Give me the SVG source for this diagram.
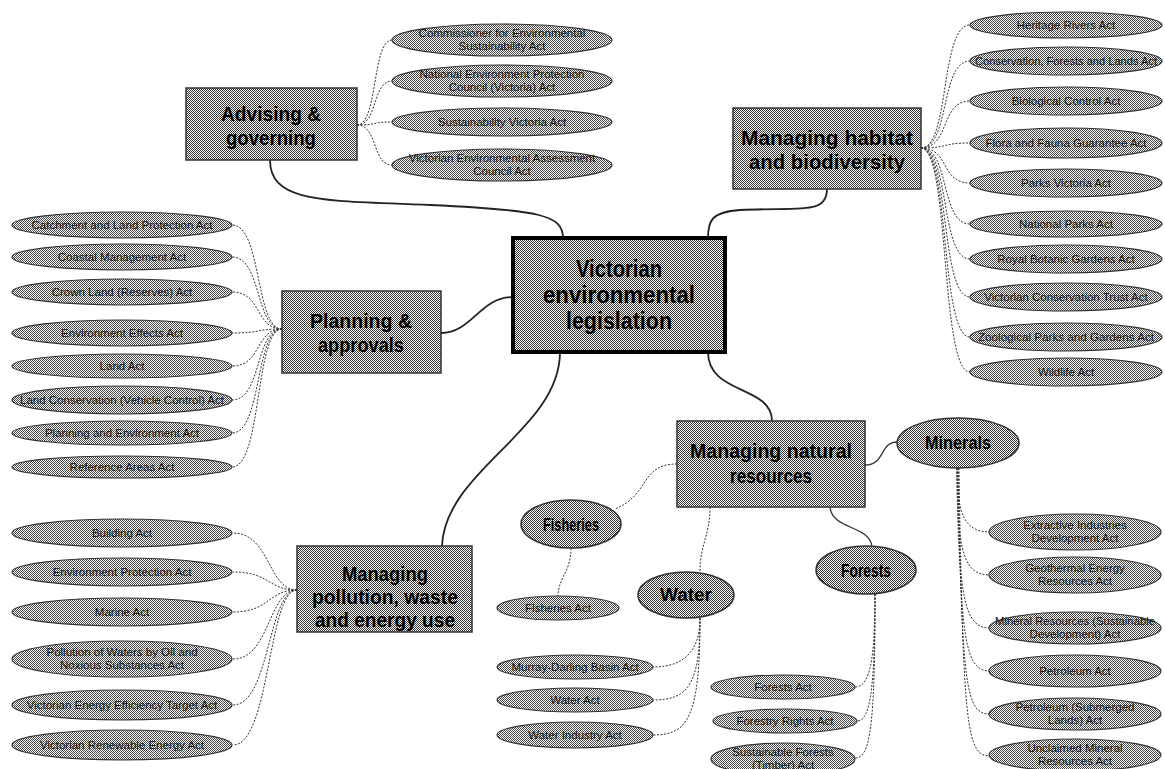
<svg xmlns="http://www.w3.org/2000/svg" width="1165" height="769" viewBox="0 0 1165 769">
  <defs>
    <!-- halftone fills -->
    <pattern id="dots" width="2" height="2" patternUnits="userSpaceOnUse">
      <rect width="2" height="2" fill="#fff"/>
      <rect width="1" height="1" fill="#333"/>
      <rect x="1" y="1" width="1" height="1" fill="#333"/>
    </pattern>
    <pattern id="dots2" width="2" height="2" patternUnits="userSpaceOnUse">
      <rect width="2" height="2" fill="#fff"/>
      <rect width="1" height="1" fill="#444"/>
      <rect x="1" y="1" width="1" height="1" fill="#444"/>
    </pattern>
  </defs>
  <style>
    .box{fill:url(#dots);stroke:#333;stroke-width:1.5}
    .core{fill:url(#dots);stroke:#000;stroke-width:4}
    .sub{fill:url(#dots);stroke:#333;stroke-width:1.5}
    .leaf{fill:url(#dots2);stroke:#333;stroke-width:1.2}
    .lbl{font-family:"Liberation Sans",Arial,sans-serif;font-weight:bold;fill:#000;text-anchor:middle}
    .sm{font-family:"Liberation Sans",Arial,sans-serif;font-size:11.5px;fill:#111;text-anchor:middle}
    .main{fill:none;stroke:#222;stroke-width:1.8}
    .thin{fill:none;stroke:#333;stroke-width:1.3}
    .dot{fill:none;stroke:#333;stroke-width:1;stroke-dasharray:2 1.5}
  </style>
  <rect width="1165" height="769" fill="#fff"/>

  <!-- connectors -->
  <g id="connectors">
    <!-- centre to categories -->
    <path class="main" d="M270,160 C270,205 330,200 430,205 C540,210 563,215 563,238"/>
    <path class="main" d="M827,189 C827,215 800,207 740,210 C712,212 708,220 708,238"/>
    <path class="main" d="M441,333 C472,333 480,297 513,297"/>
    <path class="main" d="M560,352 C560,430 445,470 442,546"/>
    <path class="main" d="M708,352 C708,395 772,385 772,421"/>
    <!-- natural resources to sub-topics -->
    <path class="thin" d="M865,465 C885,465 880,442 897,442"/>
    <path class="dot" d="M677,464 C640,464 650,495 615,509"/>
    <path class="dot" d="M710,507 C710,535 700,545 700,571"/>
    <path class="thin" d="M830,507 C832,530 870,525 872,547"/>
    <path class="dot" d="M571,548 C571,572 558,578 558,596"/>
    <!-- advising acts -->
    <path class="dot" d="M357,125 C378,125 372,40 392,40"/>
    <path class="dot" d="M357,125 C378,125 372,81 392,81"/>
    <path class="dot" d="M357,125 C378,125 372,122 392,122"/>
    <path class="dot" d="M357,125 C378,125 372,165 392,165"/>
    <!-- habitat acts -->
    <path class="dot" d="M921,148 C950,148 940,25 970,25"/>
    <path class="dot" d="M921,148 C950,148 940,61 970,61"/>
    <path class="dot" d="M921,148 C950,148 940,101 970,101"/>
    <path class="dot" d="M921,148 C950,148 940,143 970,143"/>
    <path class="dot" d="M921,148 C950,148 940,183 970,183"/>
    <path class="dot" d="M921,148 C950,148 940,224 970,224"/>
    <path class="dot" d="M921,148 C950,148 940,259 970,259"/>
    <path class="dot" d="M921,148 C950,148 940,297 970,297"/>
    <path class="dot" d="M921,148 C950,148 940,337 970,337"/>
    <path class="dot" d="M921,148 C950,148 940,372 970,372"/>
    <!-- planning acts -->
    <path class="dot" d="M282,329 C255,329 262,225 232,225"/>
    <path class="dot" d="M282,329 C255,329 262,257 232,257"/>
    <path class="dot" d="M282,329 C255,329 262,292 232,292"/>
    <path class="dot" d="M282,329 C255,329 262,333 232,333"/>
    <path class="dot" d="M282,329 C255,329 262,366 232,366"/>
    <path class="dot" d="M282,329 C255,329 262,400 232,400"/>
    <path class="dot" d="M282,329 C255,329 262,433 232,433"/>
    <path class="dot" d="M282,329 C255,329 262,467 232,467"/>
    <!-- pollution acts -->
    <path class="dot" d="M297,590 C268,590 270,533 233,533"/>
    <path class="dot" d="M297,590 C268,590 270,572 233,572"/>
    <path class="dot" d="M297,590 C268,590 270,612 233,612"/>
    <path class="dot" d="M297,590 C268,590 270,659 233,659"/>
    <path class="dot" d="M297,590 C268,590 270,705 233,705"/>
    <path class="dot" d="M297,590 C268,590 270,745 233,745"/>
    <!-- water acts -->
    <path class="dot" d="M700,618 C700,650 685,667 653,667"/>
    <path class="dot" d="M700,618 C700,685 688,700 653,700"/>
    <path class="dot" d="M700,618 C700,718 688,735 653,735"/>
    <!-- forests acts -->
    <path class="dot" d="M875,594 C875,660 870,687 855,687"/>
    <path class="dot" d="M875,594 C875,690 870,721 857,721"/>
    <path class="dot" d="M875,594 C875,730 870,758 855,758"/>
    <!-- minerals acts -->
    <path class="dot" d="M957,468 C957,515 965,532 990,532"/>
    <path class="dot" d="M957,468 C957,555 965,575 990,575"/>
    <path class="dot" d="M957,468 C958,600 965,628 990,628"/>
    <path class="dot" d="M958,468 C960,640 965,671 990,671"/>
    <path class="dot" d="M958,468 C962,690 966,714 990,714"/>
    <path class="dot" d="M959,468 C963,730 967,756 990,756"/>
  </g>

  <!-- centre -->
  <g id="core">
    <rect class="core" x="513" y="238" width="212" height="114"/>
    <text class="lbl" font-size="23" x="619" y="277" textLength="86" lengthAdjust="spacingAndGlyphs">Victorian</text>
    <text class="lbl" font-size="23" x="619" y="303" textLength="152" lengthAdjust="spacingAndGlyphs">environmental</text>
    <text class="lbl" font-size="23" x="619" y="329" textLength="106" lengthAdjust="spacingAndGlyphs">legislation</text>
  </g>

  <!-- categories -->
  <g id="advising">
    <rect class="box" x="186" y="88" width="171" height="72"/>
    <text class="lbl" font-size="21" x="271" y="121" textLength="100" lengthAdjust="spacingAndGlyphs">Advising &amp;</text>
    <text class="lbl" font-size="21" x="271" y="145" textLength="90" lengthAdjust="spacingAndGlyphs">governing</text>
  </g>
  <g id="planning">
    <rect class="box" x="282" y="291" width="159" height="82"/>
    <text class="lbl" font-size="21" x="361" y="328" textLength="102" lengthAdjust="spacingAndGlyphs">Planning &amp;</text>
    <text class="lbl" font-size="21" x="361" y="352" textLength="86" lengthAdjust="spacingAndGlyphs">approvals</text>
  </g>
  <g id="habitat">
    <rect class="box" x="733" y="108" width="188" height="81"/>
    <text class="lbl" font-size="21" x="827" y="145" textLength="172" lengthAdjust="spacingAndGlyphs">Managing habitat</text>
    <text class="lbl" font-size="21" x="827" y="169" textLength="156" lengthAdjust="spacingAndGlyphs">and biodiversity</text>
  </g>
  <g id="resources">
    <rect class="box" x="677" y="421" width="188" height="86"/>
    <text class="lbl" font-size="21" x="771" y="458" textLength="162" lengthAdjust="spacingAndGlyphs">Managing natural</text>
    <text class="lbl" font-size="21" x="771" y="483" textLength="82" lengthAdjust="spacingAndGlyphs">resources</text>
  </g>
  <g id="pollution">
    <rect class="box" x="297" y="546" width="175" height="86"/>
    <text class="lbl" font-size="21" x="385" y="581" textLength="86" lengthAdjust="spacingAndGlyphs">Managing</text>
    <text class="lbl" font-size="21" x="385" y="604" textLength="146" lengthAdjust="spacingAndGlyphs">pollution, waste</text>
    <text class="lbl" font-size="21" x="385" y="627" textLength="140" lengthAdjust="spacingAndGlyphs">and energy use</text>
  </g>

  <!-- resource sub-topics -->
  <g id="minerals">
    <ellipse class="sub" cx="958" cy="443" rx="61" ry="25"/>
    <text class="lbl" font-size="18" x="958" y="449" textLength="66" lengthAdjust="spacingAndGlyphs">Minerals</text>
  </g>
  <g id="fisheries">
    <ellipse class="sub" cx="571" cy="524" rx="50" ry="24"/>
    <text class="lbl" font-size="18" x="571" y="531" textLength="56" lengthAdjust="spacingAndGlyphs">Fisheries</text>
  </g>
  <g id="water">
    <ellipse class="sub" cx="686" cy="595" rx="48" ry="23"/>
    <text class="lbl" font-size="18" x="686" y="601" textLength="52" lengthAdjust="spacingAndGlyphs">Water</text>
  </g>
  <g id="forests">
    <ellipse class="sub" cx="866" cy="570" rx="50" ry="24"/>
    <text class="lbl" font-size="18" x="866" y="577" textLength="50" lengthAdjust="spacingAndGlyphs">Forests</text>
  </g>

  <!-- advising acts -->
  <g id="act-ces">
    <ellipse class="leaf" cx="502" cy="40" rx="110" ry="16"/>
    <text class="sm" x="502" y="37">Commissioner for Environmental</text>
    <text class="sm" x="502" y="50">Sustainability Act</text>
  </g>
  <g id="act-nepc">
    <ellipse class="leaf" cx="502" cy="81" rx="110" ry="16"/>
    <text class="sm" x="502" y="78">National Environment Protection</text>
    <text class="sm" x="502" y="91">Council (Victoria) Act</text>
  </g>
  <g id="act-sv">
    <ellipse class="leaf" cx="502" cy="122" rx="110" ry="14"/>
    <text class="sm" x="502" y="126">Sustainability Victoria Act</text>
  </g>
  <g id="act-veac">
    <ellipse class="leaf" cx="502" cy="165" rx="110" ry="16"/>
    <text class="sm" x="502" y="162">Victorian Environmental Assessment</text>
    <text class="sm" x="502" y="175">Council Act</text>
  </g>

  <!-- habitat acts -->
  <g id="act-hr">
    <ellipse class="leaf" cx="1066" cy="25" rx="96" ry="13"/>
    <text class="sm" x="1066" y="29">Heritage Rivers Act</text>
  </g>
  <g id="act-cfl">
    <ellipse class="leaf" cx="1066" cy="61" rx="96" ry="14"/>
    <text class="sm" x="1066" y="65" textLength="182" lengthAdjust="spacingAndGlyphs">Conservation, Forests and Lands Act</text>
  </g>
  <g id="act-bc">
    <ellipse class="leaf" cx="1066" cy="101" rx="96" ry="14"/>
    <text class="sm" x="1066" y="105">Biological Control Act</text>
  </g>
  <g id="act-ffg">
    <ellipse class="leaf" cx="1066" cy="143" rx="96" ry="15"/>
    <text class="sm" x="1066" y="147">Flora and Fauna Guarantee Act</text>
  </g>
  <g id="act-pv">
    <ellipse class="leaf" cx="1066" cy="183" rx="96" ry="14"/>
    <text class="sm" x="1066" y="187">Parks Victoria Act</text>
  </g>
  <g id="act-np">
    <ellipse class="leaf" cx="1066" cy="224" rx="96" ry="13"/>
    <text class="sm" x="1066" y="228">National Parks Act</text>
  </g>
  <g id="act-rbg">
    <ellipse class="leaf" cx="1066" cy="259" rx="96" ry="14"/>
    <text class="sm" x="1066" y="263">Royal Botanic Gardens Act</text>
  </g>
  <g id="act-vct">
    <ellipse class="leaf" cx="1066" cy="297" rx="96" ry="14"/>
    <text class="sm" x="1066" y="301">Victorian Conservation Trust Act</text>
  </g>
  <g id="act-zpg">
    <ellipse class="leaf" cx="1066" cy="337" rx="96" ry="14"/>
    <text class="sm" x="1066" y="341" textLength="176" lengthAdjust="spacingAndGlyphs">Zoological Parks and Gardens Act</text>
  </g>
  <g id="act-wl">
    <ellipse class="leaf" cx="1066" cy="372" rx="96" ry="14"/>
    <text class="sm" x="1066" y="376">Wildlife Act</text>
  </g>

  <!-- planning acts -->
  <g id="act-clp">
    <ellipse class="leaf" cx="122" cy="225" rx="110" ry="13"/>
    <text class="sm" x="122" y="229">Catchment and Land Protection Act</text>
  </g>
  <g id="act-cm">
    <ellipse class="leaf" cx="122" cy="257" rx="110" ry="13"/>
    <text class="sm" x="122" y="261">Coastal Management Act</text>
  </g>
  <g id="act-clr">
    <ellipse class="leaf" cx="122" cy="292" rx="110" ry="13"/>
    <text class="sm" x="122" y="296">Crown Land (Reserves) Act</text>
  </g>
  <g id="act-ee">
    <ellipse class="leaf" cx="122" cy="333" rx="110" ry="13"/>
    <text class="sm" x="122" y="337">Environment Effects Act</text>
  </g>
  <g id="act-la">
    <ellipse class="leaf" cx="122" cy="366" rx="110" ry="12"/>
    <text class="sm" x="122" y="370">Land Act</text>
  </g>
  <g id="act-lcvc">
    <ellipse class="leaf" cx="122" cy="400" rx="110" ry="14"/>
    <text class="sm" x="122" y="404">Land Conservation (Vehicle Control) Act</text>
  </g>
  <g id="act-pe">
    <ellipse class="leaf" cx="122" cy="433" rx="110" ry="12"/>
    <text class="sm" x="122" y="437">Planning and Environment Act</text>
  </g>
  <g id="act-ra">
    <ellipse class="leaf" cx="122" cy="467" rx="110" ry="11"/>
    <text class="sm" x="122" y="471">Reference Areas Act</text>
  </g>

  <!-- pollution acts -->
  <g id="act-ba">
    <ellipse class="leaf" cx="122" cy="533" rx="110" ry="14"/>
    <text class="sm" x="122" y="537">Building Act</text>
  </g>
  <g id="act-ep">
    <ellipse class="leaf" cx="122" cy="572" rx="110" ry="14"/>
    <text class="sm" x="122" y="576">Environment Protection Act</text>
  </g>
  <g id="act-ma">
    <ellipse class="leaf" cx="122" cy="612" rx="110" ry="14"/>
    <text class="sm" x="122" y="616">Marine Act</text>
  </g>
  <g id="act-pwo">
    <ellipse class="leaf" cx="122" cy="659" rx="110" ry="18"/>
    <text class="sm" x="122" y="656">Pollution of Waters by Oil and</text>
    <text class="sm" x="122" y="669">Noxious Substances Act</text>
  </g>
  <g id="act-veet">
    <ellipse class="leaf" cx="122" cy="705" rx="110" ry="15"/>
    <text class="sm" x="122" y="709">Victorian Energy Efficiency Target Act</text>
  </g>
  <g id="act-vre">
    <ellipse class="leaf" cx="122" cy="745" rx="110" ry="15"/>
    <text class="sm" x="122" y="749">Victorian Renewable Energy Act</text>
  </g>

  <!-- fisheries and water acts -->
  <g id="act-fa">
    <ellipse class="leaf" cx="558" cy="608" rx="61" ry="12"/>
    <text class="sm" x="558" y="612">Fisheries Act</text>
  </g>
  <g id="act-mdb">
    <ellipse class="leaf" cx="575" cy="667" rx="78" ry="12"/>
    <text class="sm" x="575" y="671">Murray-Darling Basin Act</text>
  </g>
  <g id="act-wa">
    <ellipse class="leaf" cx="575" cy="700" rx="78" ry="12"/>
    <text class="sm" x="575" y="704">Water Act</text>
  </g>
  <g id="act-wi">
    <ellipse class="leaf" cx="575" cy="735" rx="78" ry="13"/>
    <text class="sm" x="575" y="739">Water Industry Act</text>
  </g>

  <!-- forests acts -->
  <g id="act-fo">
    <ellipse class="leaf" cx="783" cy="687" rx="72" ry="12"/>
    <text class="sm" x="783" y="691">Forests Act</text>
  </g>
  <g id="act-fr">
    <ellipse class="leaf" cx="785" cy="721" rx="72" ry="12"/>
    <text class="sm" x="785" y="725">Forestry Rights Act</text>
  </g>
  <g id="act-sft">
    <ellipse class="leaf" cx="783" cy="759" rx="72" ry="16"/>
    <text class="sm" x="783" y="756">Sustainable Forests</text>
    <text class="sm" x="783" y="769">(Timber) Act</text>
  </g>

  <!-- minerals acts -->
  <g id="act-eid">
    <ellipse class="leaf" cx="1075" cy="532" rx="86" ry="18"/>
    <text class="sm" x="1075" y="529">Extractive Industries</text>
    <text class="sm" x="1075" y="542">Development Act</text>
  </g>
  <g id="act-ger">
    <ellipse class="leaf" cx="1075" cy="575" rx="86" ry="18"/>
    <text class="sm" x="1075" y="572">Geothermal Energy</text>
    <text class="sm" x="1075" y="585">Resources Act</text>
  </g>
  <g id="act-mrsd">
    <ellipse class="leaf" cx="1075" cy="628" rx="86" ry="16"/>
    <text class="sm" x="1075" y="625" textLength="160" lengthAdjust="spacingAndGlyphs">Mineral Resources (Sustainable</text>
    <text class="sm" x="1075" y="638">Development) Act</text>
  </g>
  <g id="act-pa">
    <ellipse class="leaf" cx="1075" cy="671" rx="86" ry="16"/>
    <text class="sm" x="1075" y="675">Petroleum Act</text>
  </g>
  <g id="act-psl">
    <ellipse class="leaf" cx="1075" cy="714" rx="86" ry="16"/>
    <text class="sm" x="1075" y="711">Petroleum (Submerged</text>
    <text class="sm" x="1075" y="724">Lands) Act</text>
  </g>
  <g id="act-umr">
    <ellipse class="leaf" cx="1075" cy="755" rx="86" ry="16"/>
    <text class="sm" x="1075" y="752">Unclaimed Mineral</text>
    <text class="sm" x="1075" y="765">Resources Act</text>
  </g>
</svg>
